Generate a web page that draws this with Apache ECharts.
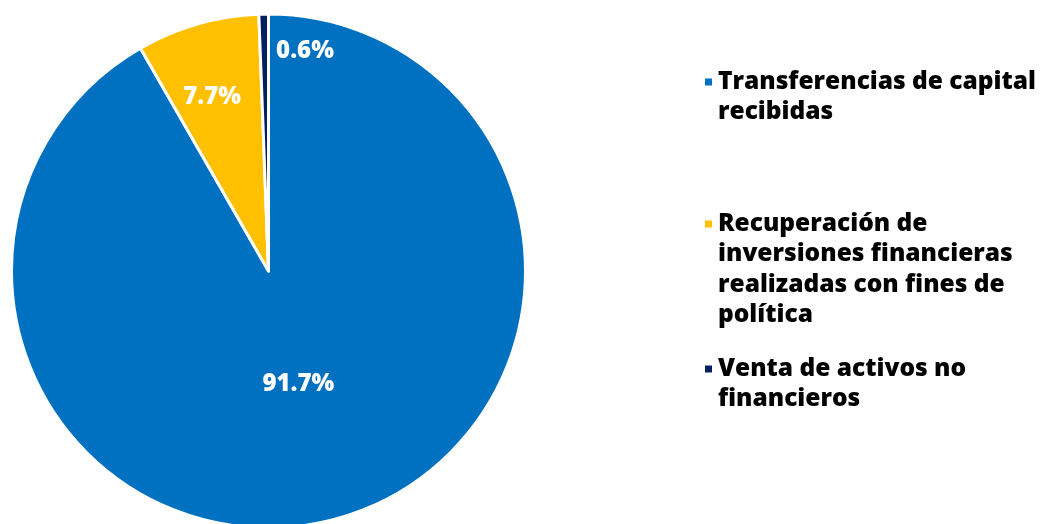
<!DOCTYPE html>
<html><head><meta charset="utf-8">
<script src="https://cdn.jsdelivr.net/npm/echarts@6/dist/echarts.min.js"></script>
<style>html,body{margin:0;padding:0;background:#fff}#c{width:1043px;height:524px}</style>
</head><body><div id="c"></div>
<script>
const categories = [
  'Transferencias de capital recibidas',
  'Recuperación de inversiones financieras realizadas con fines de política',
  'Venta de activos no financieros'
];
const legendLabels = [
  'Transferencias de capital\nrecibidas',
  'Recuperación de\ninversiones financieras\nrealizadas con fines de\npolítica',
  'Venta de activos no\nfinancieros'
];
const values = [91.7, 7.7, 0.6];

const colors = ['#0070C0', '#FFC000', '#002060'];
const labelOffsets = [[-4, -14], [-20, -47], [39, -88]];
const legendFirstLineY = [82, 224, 369];
const LH = 30.5;
const FONT = 'Open Sans';

const data = categories.map((n, i) => ({
  name: n, value: values[i],
  label: { offset: labelOffsets[i] }
}));

const chart = echarts.init(document.getElementById('c'));
chart.setOption({
  animation: false,
  color: colors,
  legend: categories.map((n, i) => {
    const lines = legendLabels[i].split('\n').length;
    const pre = '\n'.repeat(lines - 1);
    return {
      data: [n], left: 703, top: legendFirstLineY[i] - (2 * lines - 1) * LH / 2,
      orient: 'vertical', padding: 0,
      icon: 'rect', itemWidth: 9, itemHeight: 9, itemGap: 0,
      selectedMode: false,
      formatter: () => pre + legendLabels[i],
      textStyle: { fontFamily: FONT, fontWeight: 800, fontSize: 24.5, color: '#000', lineHeight: LH }
    };
  }),
  series: [{
    type: 'pie', radius: 257, center: [268.5, 271], startAngle: 90, clockwise: true,
    itemStyle: { borderColor: '#fff', borderWidth: 3 },
    label: {
      show: true, position: 'inside', color: '#fff', fontFamily: FONT, fontWeight: 800, fontSize: 24,
      formatter: p => p.value.toFixed(1) + '%'
    },
    labelLine: { show: false },
    data: data
  }]
});
</script></body></html>
